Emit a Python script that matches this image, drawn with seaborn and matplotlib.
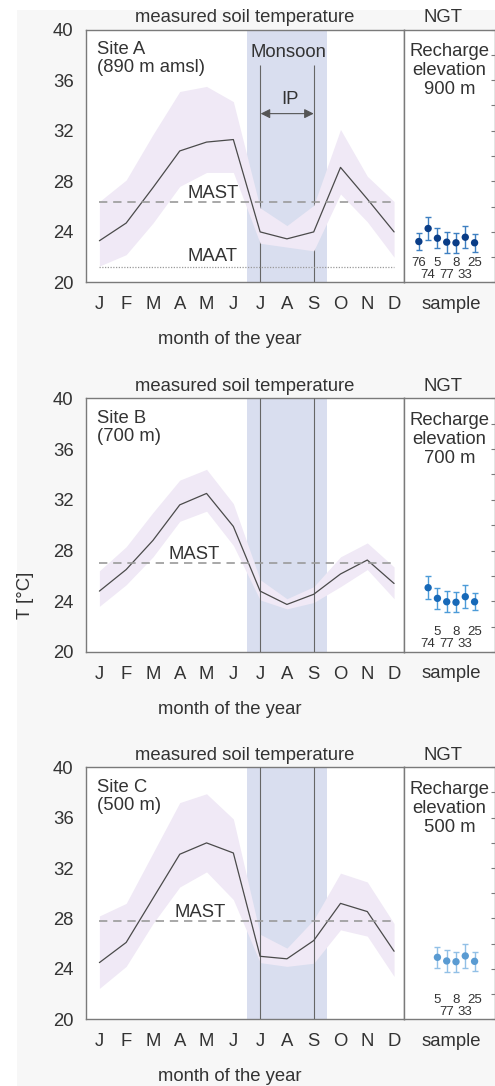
import matplotlib
matplotlib.use("Agg")
import matplotlib.pyplot as plt
import seaborn as sns
from matplotlib.patches import Rectangle

sns.set_style("white")
plt.rcParams['font.family'] = ['Liberation Sans', 'DejaVu Sans']
plt.rcParams['text.color'] = '#333333'

# 1- data
months = ["J", "F", "M", "A", "M", "J", "J", "A", "S", "O", "N", "D"]
month_no = list(range(1, 13))

site_a_mean = [23.3, 24.7, 27.5, 30.4, 31.1, 31.3, 24.0, 23.45, 24.0, 29.1, 26.6, 24.0]
site_a_upper = [26.4, 28.1, 31.7, 35.1, 35.5, 34.3, 25.9, 24.5, 26.1, 32.1, 28.4, 26.4]
site_a_lower = [21.3, 22.2, 24.7, 27.6, 28.7, 28.7, 23.1, 22.8, 22.5, 27.0, 24.8, 22.0]
site_a_mast = 26.4
site_a_maat = 21.2

site_b_mean = [24.8, 26.5, 28.8, 31.6, 32.5, 29.9, 24.8, 23.75, 24.55, 26.15, 27.25, 25.4]
site_b_upper = [26.4, 28.3, 31.0, 33.55, 34.4, 31.7, 25.7, 24.2, 25.15, 27.5, 28.6, 26.7]
site_b_lower = [23.6, 25.3, 27.5, 30.3, 31.1, 28.4, 24.1, 23.4, 23.9, 25.15, 26.5, 24.2]
site_b_mast = 27.05

site_c_mean = [24.5, 26.1, 29.6, 33.1, 34.0, 33.2, 25.0, 24.8, 26.25, 29.2, 28.55, 25.4]
site_c_upper = [28.2, 29.2, 33.2, 37.2, 37.9, 35.9, 26.75, 25.65, 27.9, 31.6, 30.9, 27.6]
site_c_lower = [22.45, 24.2, 27.6, 30.5, 31.7, 29.5, 24.5, 24.2, 24.45, 27.1, 26.6, 23.4]
site_c_mast = 27.8

# noble gas temperatures (NGT) per sample
ngt_a_samples = ["76", "74", "5", "77", "8", "33", "25"]
ngt_a_pos = [1, 2, 3, 4, 5, 6, 7]
ngt_a_T = [23.24, 24.27, 23.5, 23.19, 23.14, 23.58, 23.14]
ngt_a_err = [0.69, 0.9, 0.79, 0.84, 0.79, 0.88, 0.73]

ngt_b_samples = ["74", "5", "77", "8", "33", "25"]
ngt_b_pos = [2, 3, 4, 5, 6, 7]
ngt_b_T = [25.07, 24.23, 23.96, 23.92, 24.36, 23.96]
ngt_b_err = [0.92, 0.81, 0.84, 0.79, 0.89, 0.66]

ngt_c_samples = ["5", "77", "8", "33", "25"]
ngt_c_pos = [3, 4, 5, 6, 7]
ngt_c_T = [24.92, 24.63, 24.57, 25.03, 24.6]
ngt_c_err = [0.83, 0.86, 0.79, 0.93, 0.73]

W, H = 495, 1086
fs = 13.3
fig = plt.figure(figsize=(W / 100, H / 100), dpi=100)
fig.patch.set_facecolor('white')
fig.add_artist(Rectangle((17 / W, 0), 1, 1 - 10 / H, transform=fig.transFigure,
                         facecolor='#f7f7f7', edgecolor='none', zorder=-10))

spine_c = '#7a7a7a'
band_c = '#f0e9f6'
monsoon_c = '#d9deef'


def style_axes(ax):
    ax.set_facecolor('white')
    for s in ax.spines.values():
        s.set_color(spine_c)
        s.set_linewidth(1.0)
    ax.set_ylim(20, 40)
    ax.set_yticks(range(20, 41, 2))
    ax.tick_params(axis='both', direction='in', length=3, color=spine_c,
                   labelsize=fs, labelcolor='#333333')


def draw_site(top_px, bottom_px, site, mean, upper, lower, mast, maat,
              samples, pos, T, err, pt_c, err_c, recharge):
    bottom = 1 - bottom_px / H
    height = (bottom_px - top_px) / H
    ax = fig.add_axes([86 / W, bottom, 318 / W, height])
    ax2 = fig.add_axes([404 / W, bottom, 91 / W, height])
    style_axes(ax)
    style_axes(ax2)

    # 2- monsoon band + IP lines
    ax.axvspan(6.5, 9.5, color=monsoon_c, lw=0, zorder=0.5)
    if maat is not None:
        ax.vlines([7, 9], 20, 37.16, color='#666666', lw=0.8, zorder=1.5)
    else:
        ax.vlines([7, 9], 20, 40, color='#666666', lw=0.8, zorder=3)

    # 3- soil temperature band and mean
    ax.fill_between(month_no, lower, upper, color=band_c, lw=0, zorder=2)
    sns.lineplot(x=month_no, y=mean, ax=ax, color='#4a4a4a', lw=0.9, zorder=4)
    ax.hlines(mast, 1, 12, color='#9a9a9a', lw=1.2, linestyles=(0, (5, 3.5)), zorder=4)

    if maat is not None:
        ax.hlines(maat, 1, 12, color='#9a9a9a', lw=0.9, linestyles=(0, (1, 1.2)), zorder=4)
        ax.text(5.22, maat + 0.15, "MAAT", fontsize=fs, ha='center', va='bottom')
        ax.text(5.23, mast, "MAST", fontsize=fs, ha='center', va='bottom')
        ax.text(8.05, 38.2, "Monsoon", fontsize=fs, ha='center', va='center')
        ax.text(8.1, 34.5, "IP", fontsize=fs, ha='center', va='center')
        ax.annotate("", xy=(7.02, 33.35), xytext=(9.0, 33.35),
                    arrowprops=dict(arrowstyle='<|-|>', color='#555555', lw=0.8,
                                    mutation_scale=14, shrinkA=0, shrinkB=0))
    else:
        ax.text(site[2], mast, "MAST", fontsize=fs, ha='center', va='bottom')

    ax.text(0.035, 0.955, site[0] + "\n" + site[1], transform=ax.transAxes,
            fontsize=fs, ha='left', va='top', linespacing=1.1)

    ax.set_xlim(0.5, 12.37)
    ax.set_xticks(month_no)
    ax.set_xticklabels(months)
    ax.set_yticks(range(20, 41, 4))
    ax.set_yticks(range(22, 40, 4), minor=True)
    ax.tick_params(axis='y', which='both', direction='in', length=3, pad=9)
    ax.tick_params(axis='x', pad=10)
    ax.set_xlabel("")
    ax.set_ylabel("")

    # 4- NGT panel
    ax2.errorbar(pos, T, yerr=err, fmt='none', ecolor=err_c, elinewidth=1.0,
                 capsize=2.5, capthick=1.0, zorder=3)
    sns.scatterplot(x=pos, y=T, ax=ax2, color=pt_c, s=28, edgecolor='none', zorder=4)
    for p, lab in zip(pos, samples):
        row_y = 0.077 if p % 2 == 1 else 0.03
        ax2.text(p, row_y, lab, transform=ax2.get_xaxis_transform(),
                 fontsize=9.5, ha='center', va='center')
    ax2.text(0.5, 0.945, recharge, transform=ax2.transAxes, fontsize=fs,
             ha='center', va='top', linespacing=1.15)
    ax2.set_xlim(-0.6, 9.2)
    ax2.set_xticks([])
    ax2.yaxis.tick_right()
    ax2.tick_params(axis='y', labelright=False, labelleft=False)

    # 5- labels around the panels
    fig.text(245 / W, 1 - (top_px - 12) / H, "measured soil temperature",
             fontsize=fs, ha='center', va='center')
    fig.text(443 / W, 1 - (top_px - 12) / H, "NGT", fontsize=fs, ha='center', va='center')
    fig.text(451 / W, 1 - (bottom_px + 22) / H, "sample", fontsize=fs, ha='center', va='center')
    fig.text(230 / W, 1 - (bottom_px + 57) / H, "month of the year", fontsize=fs,
             ha='center', va='center')


draw_site(29.5, 282.5, ("Site A", "(890 m amsl)", 5.23), site_a_mean, site_a_upper,
          site_a_lower, site_a_mast, site_a_maat, ngt_a_samples, ngt_a_pos, ngt_a_T,
          ngt_a_err, '#0a3d87', '#3d7fc1', "Recharge\nelevation\n900 m")
draw_site(398.3, 652, ("Site B", "(700 m)", 4.52), site_b_mean, site_b_upper,
          site_b_lower, site_b_mast, None, ngt_b_samples, ngt_b_pos, ngt_b_T,
          ngt_b_err, '#1769b8', '#4c9bd8', "Recharge\nelevation\n700 m")
draw_site(767.3, 1019.3, ("Site C", "(500 m)", 4.75), site_c_mean, site_c_upper,
          site_c_lower, site_c_mast, None, ngt_c_samples, ngt_c_pos, ngt_c_T,
          ngt_c_err, '#5a9bd2', '#92c0e6', "Recharge\nelevation\n500 m")

fig.text(25 / W, 1 - 595 / H, "T [°C]", fontsize=fs, rotation=90, ha='center', va='center')

fig.savefig('out.png', dpi=100, facecolor=fig.get_facecolor())
